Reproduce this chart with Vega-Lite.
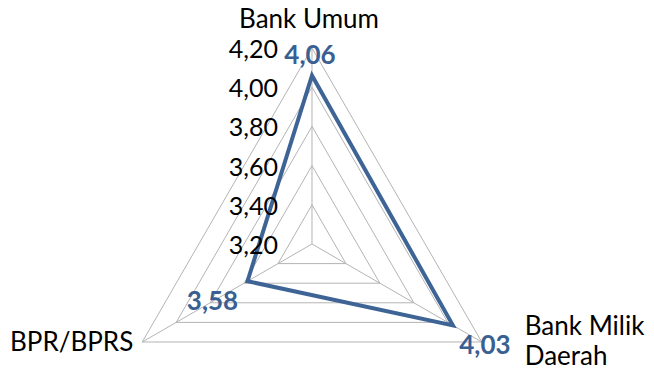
{
  "$schema": "https://vega.github.io/schema/vega-lite/v6.json",
  "width": 654,
  "height": 379,
  "autosize": {"type": "none"},
  "padding": 0,
  "background": "white",
  "config": {"view": {"stroke": null}, "text": {"font": "Lato"}},
  "datasets": {
    "series": [
      {"cat": "Bank Umum", "value": 4.06},
      {"cat": "Bank Milik Daerah", "value": 4.03},
      {"cat": "BPR/BPRS", "value": 3.58}
    ],
    "grid": [
      {"cat": "Bank Umum", "value": 3.4}, {"cat": "Bank Milik Daerah", "value": 3.4}, {"cat": "BPR/BPRS", "value": 3.4},
      {"cat": "Bank Umum", "value": 3.6}, {"cat": "Bank Milik Daerah", "value": 3.6}, {"cat": "BPR/BPRS", "value": 3.6},
      {"cat": "Bank Umum", "value": 3.8}, {"cat": "Bank Milik Daerah", "value": 3.8}, {"cat": "BPR/BPRS", "value": 3.8},
      {"cat": "Bank Umum", "value": 4.0}, {"cat": "Bank Milik Daerah", "value": 4.0}, {"cat": "BPR/BPRS", "value": 4.0},
      {"cat": "Bank Umum", "value": 4.2}, {"cat": "Bank Milik Daerah", "value": 4.2}, {"cat": "BPR/BPRS", "value": 4.2}
    ],
    "spokes": [
      {"cat": "Bank Umum", "value": 4.2},
      {"cat": "Bank Milik Daerah", "value": 4.2},
      {"cat": "BPR/BPRS", "value": 4.2}
    ],
    "ticks": [
      {"cat": "Bank Umum", "value": 3.2},
      {"cat": "Bank Umum", "value": 3.4},
      {"cat": "Bank Umum", "value": 3.6},
      {"cat": "Bank Umum", "value": 3.8},
      {"cat": "Bank Umum", "value": 4.0},
      {"cat": "Bank Umum", "value": 4.2}
    ]
  },
  "encoding": {
    "x": {"field": "x", "type": "quantitative", "scale": {"domain": [-1.5918, 1.7449], "nice": false, "zero": false}, "axis": null},
    "y": {"field": "y", "type": "quantitative", "scale": {"domain": [-0.6888, 1.2449], "nice": false, "zero": false}, "axis": null}
  },
  "layer": [
    {
      "data": {"name": "grid"},
      "transform": [
        {"calculate": "indexof(['Bank Umum','Bank Milik Daerah','BPR/BPRS'], datum.cat)", "as": "idx"},
        {"calculate": "PI/2 - datum.idx*2*PI/3", "as": "ang"},
        {"calculate": "(datum.value - 3.2)/1.0", "as": "r"},
        {"calculate": "datum.r*cos(datum.ang)", "as": "x"},
        {"calculate": "datum.r*sin(datum.ang)", "as": "y"}
      ],
      "mark": {"type": "line", "interpolate": "linear-closed", "color": "#b4b4b4", "strokeWidth": 1},
      "encoding": {
        "detail": {"field": "value", "type": "nominal"},
        "order": {"field": "idx", "type": "quantitative"}
      }
    },
    {
      "data": {"name": "spokes"},
      "transform": [
        {"calculate": "indexof(['Bank Umum','Bank Milik Daerah','BPR/BPRS'], datum.cat)", "as": "idx"},
        {"calculate": "PI/2 - datum.idx*2*PI/3", "as": "ang"},
        {"calculate": "(datum.value - 3.2)/1.0", "as": "r"},
        {"calculate": "datum.r*cos(datum.ang)", "as": "x"},
        {"calculate": "datum.r*sin(datum.ang)", "as": "y"}
      ],
      "mark": {"type": "rule", "color": "#b4b4b4", "strokeWidth": 1},
      "encoding": {
        "x2": {"datum": 0},
        "y2": {"datum": 0}
      }
    },
    {
      "data": {"name": "series"},
      "transform": [
        {"calculate": "indexof(['Bank Umum','Bank Milik Daerah','BPR/BPRS'], datum.cat)", "as": "idx"},
        {"calculate": "PI/2 - datum.idx*2*PI/3", "as": "ang"},
        {"calculate": "(datum.value - 3.2)/1.0", "as": "r"},
        {"calculate": "datum.r*cos(datum.ang)", "as": "x"},
        {"calculate": "datum.r*sin(datum.ang)", "as": "y"}
      ],
      "mark": {"type": "line", "interpolate": "linear-closed", "color": "#3e6496", "strokeWidth": 4, "strokeJoin": "miter"},
      "encoding": {
        "order": {"field": "idx", "type": "quantitative"}
      }
    },
    {
      "data": {"name": "ticks"},
      "transform": [
        {"calculate": "(datum.value - 3.2)/1.0", "as": "r"},
        {"calculate": "0", "as": "x"},
        {"calculate": "datum.r", "as": "y"},
        {"calculate": "replace(format(datum.value, '.2f'), '.', ',')", "as": "label"}
      ],
      "mark": {"type": "text", "align": "right", "baseline": "middle", "dx": -34, "dy": 2, "fontSize": 25, "color": "#000000"},
      "encoding": {"text": {"field": "label", "type": "nominal"}}
    },
    {
      "data": {"name": "series"},
      "transform": [
        {"filter": "datum.cat === 'Bank Umum'"},
        {"calculate": "indexof(['Bank Umum','Bank Milik Daerah','BPR/BPRS'], datum.cat)", "as": "idx"},
        {"calculate": "PI/2 - datum.idx*2*PI/3", "as": "ang"},
        {"calculate": "(datum.value - 3.2)/1.0", "as": "r"},
        {"calculate": "datum.r*cos(datum.ang)", "as": "x"},
        {"calculate": "datum.r*sin(datum.ang)", "as": "y"},
        {"calculate": "replace(format(datum.value, '.2f'), '.', ',')", "as": "label"}
      ],
      "mark": {"type": "text", "align": "center", "baseline": "middle", "dx": -2, "dy": -19, "fontSize": 26, "fontWeight": "bold", "color": "#3a5f92"},
      "encoding": {"text": {"field": "label", "type": "nominal"}}
    },
    {
      "data": {"name": "series"},
      "transform": [
        {"filter": "datum.cat === 'Bank Milik Daerah'"},
        {"calculate": "indexof(['Bank Umum','Bank Milik Daerah','BPR/BPRS'], datum.cat)", "as": "idx"},
        {"calculate": "PI/2 - datum.idx*2*PI/3", "as": "ang"},
        {"calculate": "(datum.value - 3.2)/1.0", "as": "r"},
        {"calculate": "datum.r*cos(datum.ang)", "as": "x"},
        {"calculate": "datum.r*sin(datum.ang)", "as": "y"},
        {"calculate": "replace(format(datum.value, '.2f'), '.', ',')", "as": "label"}
      ],
      "mark": {"type": "text", "align": "center", "baseline": "middle", "dx": 32, "dy": 21, "fontSize": 26, "fontWeight": "bold", "color": "#3a5f92"},
      "encoding": {"text": {"field": "label", "type": "nominal"}}
    },
    {
      "data": {"name": "series"},
      "transform": [
        {"filter": "datum.cat === 'BPR/BPRS'"},
        {"calculate": "indexof(['Bank Umum','Bank Milik Daerah','BPR/BPRS'], datum.cat)", "as": "idx"},
        {"calculate": "PI/2 - datum.idx*2*PI/3", "as": "ang"},
        {"calculate": "(datum.value - 3.2)/1.0", "as": "r"},
        {"calculate": "datum.r*cos(datum.ang)", "as": "x"},
        {"calculate": "datum.r*sin(datum.ang)", "as": "y"},
        {"calculate": "replace(format(datum.value, '.2f'), '.', ',')", "as": "label"}
      ],
      "mark": {"type": "text", "align": "center", "baseline": "middle", "dx": -35, "dy": 21, "fontSize": 26, "fontWeight": "bold", "color": "#3a5f92"},
      "encoding": {"text": {"field": "label", "type": "nominal"}}
    },
    {
      "data": {"name": "spokes"},
      "transform": [
        {"filter": "datum.cat === 'Bank Umum'"},
        {"calculate": "indexof(['Bank Umum','Bank Milik Daerah','BPR/BPRS'], datum.cat)", "as": "idx"},
        {"calculate": "PI/2 - datum.idx*2*PI/3", "as": "ang"},
        {"calculate": "(datum.value - 3.2)/1.0", "as": "r"},
        {"calculate": "datum.r*cos(datum.ang)", "as": "x"},
        {"calculate": "datum.r*sin(datum.ang)", "as": "y"}
      ],
      "mark": {"type": "text", "align": "center", "baseline": "middle", "dx": -3, "dy": -28, "fontSize": 26, "color": "#000000"},
      "encoding": {"text": {"field": "cat", "type": "nominal"}}
    },
    {
      "data": {"name": "spokes"},
      "transform": [
        {"filter": "datum.cat === 'BPR/BPRS'"},
        {"calculate": "indexof(['Bank Umum','Bank Milik Daerah','BPR/BPRS'], datum.cat)", "as": "idx"},
        {"calculate": "PI/2 - datum.idx*2*PI/3", "as": "ang"},
        {"calculate": "(datum.value - 3.2)/1.0", "as": "r"},
        {"calculate": "datum.r*cos(datum.ang)", "as": "x"},
        {"calculate": "datum.r*sin(datum.ang)", "as": "y"}
      ],
      "mark": {"type": "text", "align": "right", "baseline": "middle", "dx": -9, "dy": 1, "fontSize": 26, "color": "#000000"},
      "encoding": {"text": {"field": "cat", "type": "nominal"}}
    },
    {
      "data": {"name": "spokes"},
      "transform": [
        {"filter": "datum.cat === 'Bank Milik Daerah'"},
        {"calculate": "indexof(['Bank Umum','Bank Milik Daerah','BPR/BPRS'], datum.cat)", "as": "idx"},
        {"calculate": "PI/2 - datum.idx*2*PI/3", "as": "ang"},
        {"calculate": "(datum.value - 3.2)/1.0", "as": "r"},
        {"calculate": "datum.r*cos(datum.ang)", "as": "x"},
        {"calculate": "datum.r*sin(datum.ang)", "as": "y"},
        {"calculate": "replace(datum.cat, 'Milik ', 'Milik\\n')", "as": "label"}
      ],
      "mark": {"type": "text", "align": "left", "baseline": "middle", "dx": 43, "dy": -15, "fontSize": 26, "lineHeight": 30, "lineBreak": "\n", "color": "#000000"},
      "encoding": {"text": {"field": "label", "type": "nominal"}}
    }
  ]
}
